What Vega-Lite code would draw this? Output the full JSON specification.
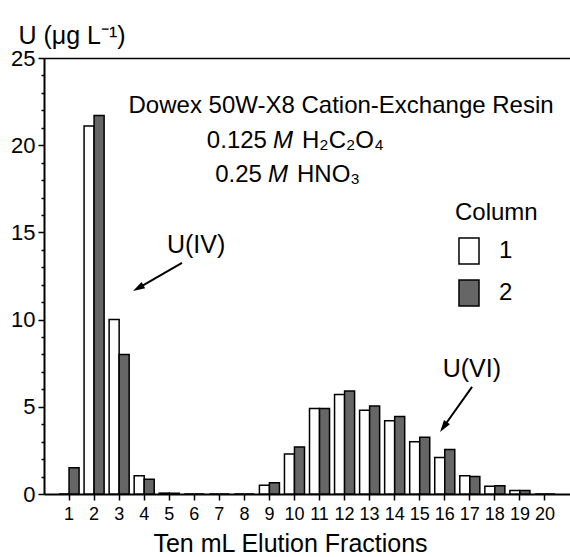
{
  "$schema": "https://vega.github.io/schema/vega-lite/v6.json",
  "width": 526,
  "height": 436,
  "autosize": {"type": "none"},
  "padding": {"left": 44, "top": 58, "right": 0, "bottom": 63},
  "background": "white",
  "config": {
    "font": "Liberation Sans",
    "view": {"stroke": null},
    "axis": {"domainColor": "black", "domainWidth": 2, "tickColor": "black", "tickWidth": 1.5, "labelColor": "black", "titleColor": "black", "grid": false, "titleFontWeight": "normal"},
    "text": {"color": "black", "font": "Liberation Sans"}
  },
  "resolve": {"scale": {"x": "independent"}, "axis": {"y": "independent"}},
  "layer": [
    {
      "data": {"values": [
        {"fraction": 1, "column": "1", "value": 0}, {"fraction": 1, "column": "2", "value": 1.5},
        {"fraction": 2, "column": "1", "value": 21.1}, {"fraction": 2, "column": "2", "value": 21.7},
        {"fraction": 3, "column": "1", "value": 10.0}, {"fraction": 3, "column": "2", "value": 8.0},
        {"fraction": 4, "column": "1", "value": 1.05}, {"fraction": 4, "column": "2", "value": 0.85},
        {"fraction": 5, "column": "1", "value": 0.05}, {"fraction": 5, "column": "2", "value": 0.05},
        {"fraction": 6, "column": "1", "value": 0}, {"fraction": 6, "column": "2", "value": 0},
        {"fraction": 7, "column": "1", "value": 0}, {"fraction": 7, "column": "2", "value": 0},
        {"fraction": 8, "column": "1", "value": 0}, {"fraction": 8, "column": "2", "value": 0},
        {"fraction": 9, "column": "1", "value": 0.5}, {"fraction": 9, "column": "2", "value": 0.65},
        {"fraction": 10, "column": "1", "value": 2.3}, {"fraction": 10, "column": "2", "value": 2.7},
        {"fraction": 11, "column": "1", "value": 4.9}, {"fraction": 11, "column": "2", "value": 4.9},
        {"fraction": 12, "column": "1", "value": 5.7}, {"fraction": 12, "column": "2", "value": 5.9},
        {"fraction": 13, "column": "1", "value": 4.8}, {"fraction": 13, "column": "2", "value": 5.05},
        {"fraction": 14, "column": "1", "value": 4.2}, {"fraction": 14, "column": "2", "value": 4.45},
        {"fraction": 15, "column": "1", "value": 3.0}, {"fraction": 15, "column": "2", "value": 3.25},
        {"fraction": 16, "column": "1", "value": 2.1}, {"fraction": 16, "column": "2", "value": 2.55},
        {"fraction": 17, "column": "1", "value": 1.05}, {"fraction": 17, "column": "2", "value": 1.0},
        {"fraction": 18, "column": "1", "value": 0.45}, {"fraction": 18, "column": "2", "value": 0.48},
        {"fraction": 19, "column": "1", "value": 0.2}, {"fraction": 19, "column": "2", "value": 0.2},
        {"fraction": 20, "column": "1", "value": 0}, {"fraction": 20, "column": "2", "value": 0}
      ]},
      "mark": {"type": "bar", "stroke": "black", "strokeWidth": 1.5},
      "encoding": {
        "x": {
          "field": "fraction", "type": "ordinal",
          "scale": {"paddingInner": 0.2, "paddingOuter": 0.6},
          "axis": {"title": "Ten mL Elution Fractions", "labelAngle": 0, "labelFontSize": 18, "labelPadding": 5, "tickSize": 6, "labelOverlap": false, "titleFontSize": 25, "titleX": 246, "titleY": 57, "titleAlign": "center", "titleBaseline": "alphabetic"}
        },
        "xOffset": {"field": "column", "type": "nominal"},
        "y": {
          "field": "value", "type": "quantitative",
          "scale": {"domain": [0, 25], "nice": false},
          "axis": {
            "title": "U (μg L⁻¹)",
            "values": [0,1,2,3,4,5,6,7,8,9,10,11,12,13,14,15,16,17,18,19,20,21,22,23,24,25],
            "labelExpr": "datum.value % 5 === 0 ? datum.label : ''",
            "tickSize": {"condition": {"test": "datum.value % 5 === 0", "value": 6}, "value": 3},
            "labelFontSize": 22, "labelPadding": 3, "labelOverlap": false,
            "titleAngle": 0, "titleAlign": "left", "titleBaseline": "alphabetic", "titleX": -26, "titleY": -15, "titleFontSize": 25
          }
        },
        "fill": {
          "field": "column", "type": "nominal",
          "scale": {"domain": ["1", "2"], "range": ["white", "#666666"]},
          "legend": {"title": "Column", "orient": "none", "legendX": 411, "legendY": 143, "padding": 0, "titleFontSize": 24, "titleFontWeight": "normal", "titleColor": "black", "labelFontSize": 24, "labelColor": "black", "symbolType": "M-0.77,-1L0.77,-1L0.77,1L-0.77,1Z", "symbolSize": 676, "symbolStrokeColor": "black", "symbolStrokeWidth": 1.5, "titlePadding": 12, "rowPadding": 10, "labelOffset": 16}
        }
      }
    },
    {
      "encoding": {
        "x": {"field": "x", "type": "quantitative", "scale": {"domain": [0, 21], "nice": false, "zero": false}, "axis": {"orient": "top", "labels": false, "ticks": false, "title": null, "domainWidth": 1.5}},
        "y": {"field": "y", "type": "quantitative", "axis": null}
      },
      "layer": [
        {
          "data": {"values": [{"x": 11.86, "y": 21.85, "text": "Dowex 50W-X8 Cation-Exchange Resin"}]},
          "mark": {"type": "text", "fontSize": 24, "align": "center", "baseline": "alphabetic"},
          "encoding": {"text": {"field": "text"}}
        },
        {
          "data": {"values": [{"x": 8.9, "y": 19.84, "text": "0.125"}, {"x": 8.7, "y": 17.89, "text": "0.25"}]},
          "mark": {"type": "text", "fontSize": 24, "align": "right", "baseline": "alphabetic"},
          "encoding": {"text": {"field": "text"}}
        },
        {
          "data": {"values": [{"x": 9.14, "y": 19.84, "text": "M"}, {"x": 8.94, "y": 17.89, "text": "M"}]},
          "mark": {"type": "text", "fontSize": 24, "fontStyle": "italic", "align": "left", "baseline": "alphabetic"},
          "encoding": {"text": {"field": "text"}}
        },
        {
          "data": {"values": [{"x": 10.3, "y": 19.84, "text": "H₂C₂O₄"}, {"x": 10.1, "y": 17.89, "text": "HNO₃"}]},
          "mark": {"type": "text", "fontSize": 24, "align": "left", "baseline": "alphabetic"},
          "encoding": {"text": {"field": "text"}}
        },
        {
          "data": {"values": [{"x": 6.07, "y": 13.82, "text": "U(IV)"}, {"x": 17.08, "y": 6.71, "text": "U(VI)"}]},
          "mark": {"type": "text", "fontSize": 25, "align": "center", "baseline": "alphabetic"},
          "encoding": {"text": {"field": "text"}}
        },
        {
          "data": {"values": [{"x": 5.51, "y": 13.25, "x2": 3.76, "y2": 11.81}, {"x": 17.09, "y": 6.14, "x2": 15.95, "y2": 3.84}]},
          "mark": {"type": "rule", "color": "black", "strokeWidth": 2},
          "encoding": {"x2": {"field": "x2"}, "y2": {"field": "y2"}}
        },
        {
          "data": {"values": [{"x": 3.76, "y": 11.81}]},
          "mark": {"type": "point", "shape": "M0,-1L0.6,1L-0.6,1Z", "filled": true, "color": "black", "opacity": 1, "size": 144, "angle": 240},
          "encoding": {}
        },
        {
          "data": {"values": [{"x": 15.95, "y": 3.84}]},
          "mark": {"type": "point", "shape": "M0,-1L0.6,1L-0.6,1Z", "filled": true, "color": "black", "opacity": 1, "size": 144, "angle": 215},
          "encoding": {}
        }
      ]
    }
  ]
}
